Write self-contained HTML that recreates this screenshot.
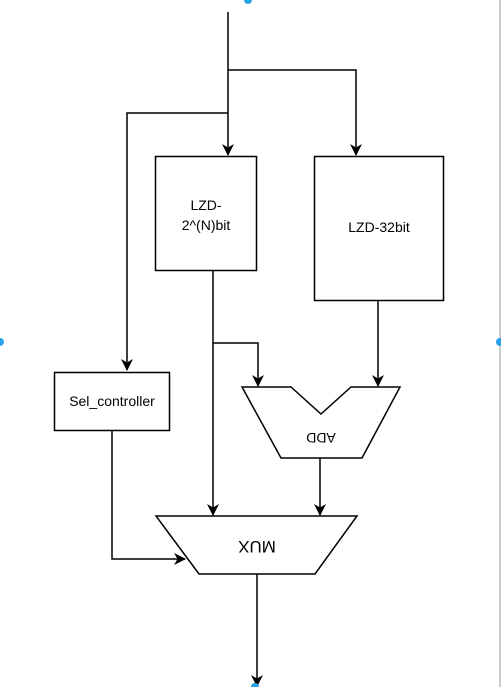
<!DOCTYPE html>
<html><head><style>
html,body{margin:0;padding:0;background:#fff;}
svg{display:block;}
text{font-family:"Liberation Sans",Arial,sans-serif;font-size:14px;fill:#000;}
</style></head><body>
<svg width="501" height="687" viewBox="0 0 501 687" xmlns="http://www.w3.org/2000/svg">
<defs>
<marker id="a" markerWidth="12" markerHeight="12" refX="11" refY="6" orient="auto" markerUnits="userSpaceOnUse">
<path d="M0,0 L12,6 L0,12 L3.5,6 Z" fill="#000"/>
</marker>
</defs>
<line x1="500" y1="0" x2="500" y2="687" stroke="#999" stroke-width="1"/>
<g fill="none" stroke="#000" stroke-width="1.5">
<polyline points="228,12 228,155" marker-end="url(#a)"/>
<polyline points="228,70 356,70 356,155" marker-end="url(#a)"/>
<polyline points="228,113 127,113 127,370" marker-end="url(#a)"/>
<polyline points="213,271 213,515" marker-end="url(#a)"/>
<polyline points="213,343 258,343 258,386" marker-end="url(#a)"/>
<polyline points="378,300 378,386" marker-end="url(#a)"/>
<polyline points="320,458 320,515" marker-end="url(#a)"/>
<polyline points="112,430 112,559 185,559" marker-end="url(#a)"/>
<polyline points="257,574 257,686" marker-end="url(#a)"/>
</g>
<g fill="#fff" stroke="#000" stroke-width="1.5">
<rect x="155.5" y="156.5" width="101" height="114"/>
<rect x="314.5" y="156.5" width="129" height="144"/>
<rect x="54.5" y="372.5" width="115" height="58"/>
<polygon points="242,387 291,387 321,414 351,387 400,387 362,458 281,458"/>
<polygon points="156,516 357,516 315,574 199,574"/>
</g>
<text x="206" y="210" text-anchor="middle">LZD-</text>
<text x="206" y="230" text-anchor="middle">2^(N)bit</text>
<text x="379" y="232" text-anchor="middle">LZD-32bit</text>
<text x="112" y="406" text-anchor="middle">Sel_controller</text>
<text x="321" y="443" text-anchor="middle" transform="rotate(180 321 438)">ADD</text>
<text x="257" y="553" text-anchor="middle" style="font-size:17px" transform="rotate(180 257 547)">MUX</text>
<g fill="#29a3e8">
<circle cx="248" cy="0" r="4"/>
<circle cx="0" cy="342" r="4"/>
<circle cx="500" cy="342" r="4"/>
<circle cx="255" cy="687" r="4"/>
</g>
</svg>
</body></html>
